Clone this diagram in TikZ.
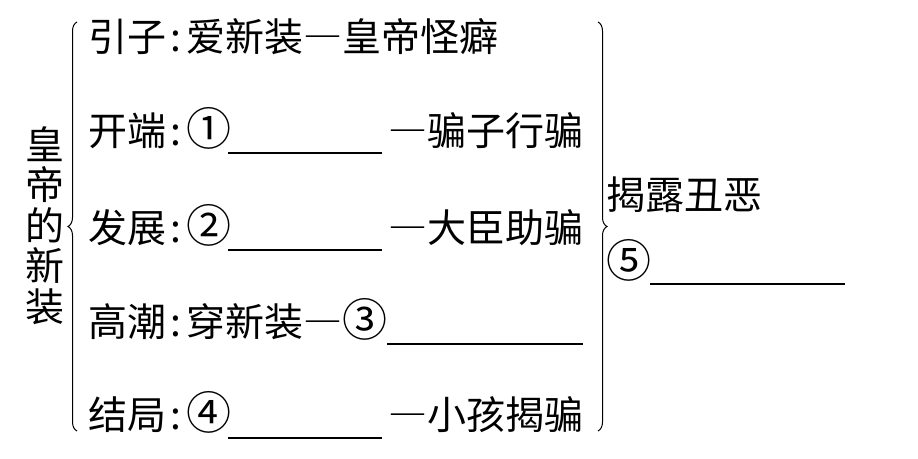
\documentclass[tikz,border=0pt]{standalone}
\usepackage{fontspec}
\newfontfamily\cjk{Noto Sans CJK SC}
\usetikzlibrary{decorations.pathreplacing}
\newcommand\mh{\kern0.12em:\kern0.12em}
\newcommand\cn[1]{{\fontsize{45}{45}\selectfont#1}}

\begin{document}
\begin{tikzpicture}[x=1pt,y=-1pt,
    txt/.style={inner sep=0pt,anchor=base west,font=\cjk\fontsize{39}{39}\selectfont},
    blank/.style={line width=1.2pt},
    bracegroup/.style={decorate,decoration={brace,amplitude=9pt},line width=1pt}]
  \useasboundingbox (0,0) rectangle (918,458);
  % vertical title
  \foreach \c [count=\i] in {皇,帝,的,新,装}
    \node[txt,anchor=center] (t\i) at (45,{104+40.5*\i}) {\c};
  % braces
  \coordinate (lbot) at (77,431); \coordinate (ltop) at (77,22);
  \coordinate (rtop) at (598,22); \coordinate (rbot) at (598,431);
  \draw[bracegroup] (lbot) -- (ltop);
  \draw[bracegroup] (rtop) -- (rbot);
  % rows
  \node[txt] (r1) at (88,51) {引子\mh 爱新装―皇帝怪癖};
  \node[txt] (r2) at (88,145) {开端\mh\cn{①}};
  \node[txt] (r3) at (88,242) {发展\mh\cn{②}};
  \node[txt] (r4) at (88,336) {高潮\mh 穿新装―\cn{③}};
  \node[txt] (r5) at (88,429) {结局\mh\cn{④}};
  \node[txt,anchor=base east] (e2) at (584,145) {―骗子行骗};
  \node[txt,anchor=base east] (e3) at (584,242) {―大臣助骗};
  \node[txt,anchor=base east] (e5) at (584,429) {―小孩揭骗};
  \draw[blank] (228,153) -- (382,153);
  \draw[blank] (228,250) -- (382,250);
  \draw[blank] (387,344) -- (583,344);
  \draw[blank] (228,438) -- (382,438);
  % result
  \node[txt] (res) at (606,209) {揭露丑恶};
  \node[txt] (five) at (606,277) {\cn{⑤}};
  \draw[blank] (650,284) -- (845,284);
\end{tikzpicture}
\end{document}
